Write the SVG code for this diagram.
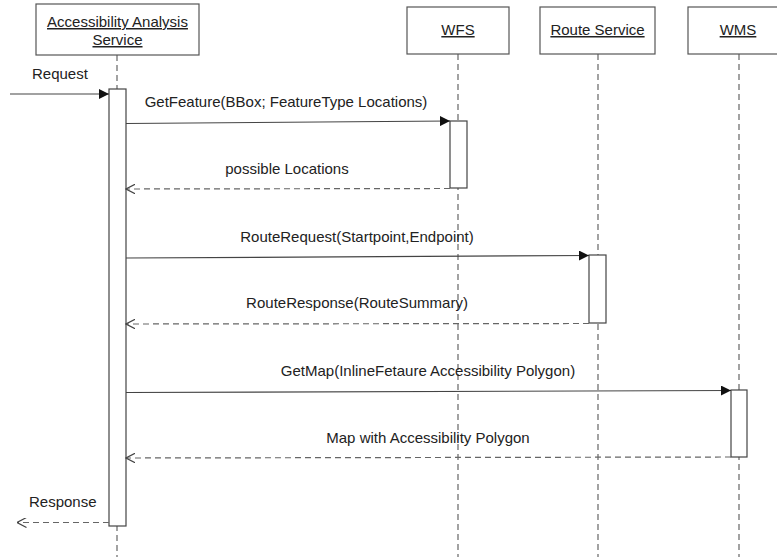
<svg xmlns="http://www.w3.org/2000/svg" width="777" height="557" viewBox="0 0 777 557">
<style>
text{font-family:"Liberation Sans",Arial,sans-serif;font-size:15px;fill:#222}
.h{text-anchor:middle;text-decoration:underline}
.m{text-anchor:middle}
.box{fill:#fff;stroke:#555;stroke-width:1.2}
.life{stroke:#666;stroke-width:1.2;stroke-dasharray:6,4;fill:none}
.act{fill:#fff;stroke:#444;stroke-width:1.2}
.call{stroke:#444;stroke-width:1.2;fill:none;marker-end:url(#fill)}
.ret{stroke:#666;stroke-width:1.2;stroke-dasharray:6,4;fill:none;marker-end:url(#open)}
</style>
<defs>
<marker id="fill" viewBox="0 0 10 10" refX="10" refY="5" markerWidth="10" markerHeight="10" markerUnits="userSpaceOnUse" orient="auto">
<path d="M0,0 L10,5 L0,10 z" fill="#111"/>
</marker>
<marker id="open" viewBox="0 0 10 10" refX="9.5" refY="5" markerWidth="10" markerHeight="10" markerUnits="userSpaceOnUse" orient="auto">
<path d="M0,0 L9.5,5 L0,10" fill="none" stroke="#444" stroke-width="1.2"/>
</marker>
</defs>
<rect width="777" height="557" fill="#fff"/>
<g id="lifelines">
<line class="life" x1="117" y1="55" x2="117" y2="557"/>
<line class="life" x1="458" y1="54" x2="458" y2="557"/>
<line class="life" x1="598" y1="54" x2="598" y2="557"/>
<line class="life" x1="739" y1="54" x2="739" y2="557"/>
</g>
<g id="aas">
<rect class="box" x="36" y="4" width="163" height="51"/>
<text class="h" x="117.5" y="27">Accessibility Analysis</text>
<text class="h" x="117.5" y="45">Service</text>
</g>
<g id="wfs">
<rect class="box" x="407" y="7" width="102" height="47"/>
<text class="h" x="458" y="35">WFS</text>
</g>
<g id="route">
<rect class="box" x="540" y="7" width="115" height="47"/>
<text class="h" x="597.5" y="35">Route Service</text>
</g>
<g id="wms">
<rect class="box" x="688" y="7" width="102" height="47"/>
<text class="h" x="738" y="35">WMS</text>
</g>
<g id="activations">
<rect class="act" x="109" y="89" width="17" height="437"/>
<rect class="act" x="450" y="121" width="17" height="67"/>
<rect class="act" x="589" y="255" width="17" height="68"/>
<rect class="act" x="731" y="390" width="16" height="67"/>
</g>
<g id="connectors">
<line class="call" x1="10" y1="94" x2="109" y2="94"/>
<line class="call" x1="126" y1="123.5" x2="450" y2="121"/>
<line class="ret" x1="450" y1="188.5" x2="126" y2="189"/>
<line class="call" x1="126" y1="258" x2="589" y2="255.5"/>
<line class="ret" x1="589" y1="323.5" x2="126" y2="324"/>
<line class="call" x1="126" y1="392.5" x2="731" y2="390.5"/>
<line class="ret" x1="731" y1="457" x2="126" y2="458"/>
<line class="ret" x1="109" y1="522.5" x2="17" y2="522.5"/>
</g>
<g id="labels">
<text x="32" y="79">Request</text>
<text class="m" x="286" y="107">GetFeature(BBox; FeatureType Locations)</text>
<text class="m" x="287" y="174">possible Locations</text>
<text class="m" x="357" y="242">RouteRequest(Startpoint,Endpoint)</text>
<text class="m" x="357" y="308">RouteResponse(RouteSummary)</text>
<text class="m" x="428" y="376">GetMap(InlineFetaure Accessibility Polygon)</text>
<text class="m" x="428" y="443">Map with Accessibility Polygon</text>
<text x="29" y="507">Response</text>
</g>
</svg>
